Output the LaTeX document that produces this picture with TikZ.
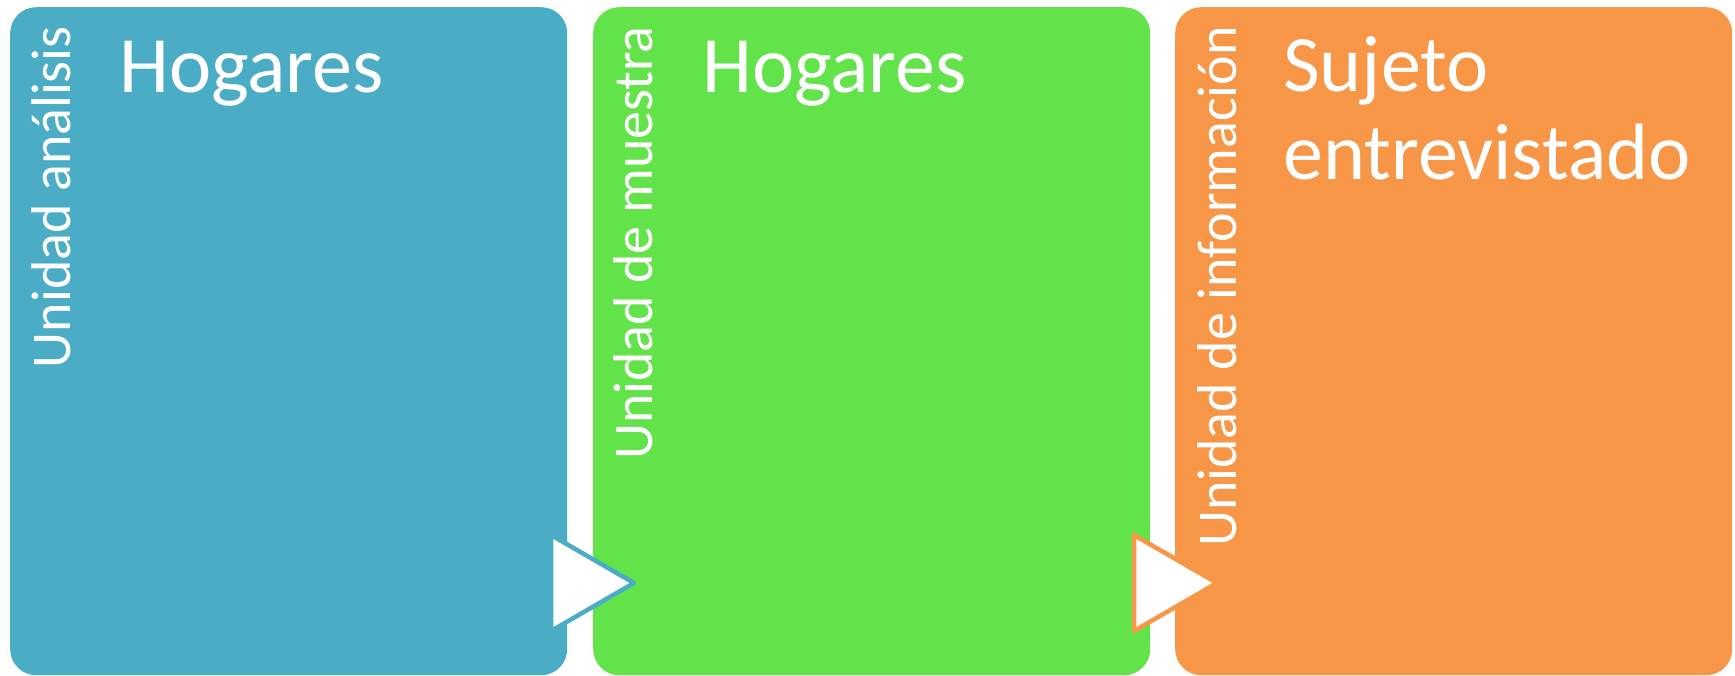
\documentclass[tikz,border=0pt]{standalone}
\usepackage{fontspec}
\setmainfont{Carlito}
\definecolor{cblue}{HTML}{4BACC6}
\definecolor{cgreen}{HTML}{62E34A}
\definecolor{corange}{HTML}{F79646}
\begin{document}
\begin{tikzpicture}[x=1pt,y=-1pt,
  panel/.style={rounded corners=26pt, inner sep=0pt, minimum width=557pt, minimum height=668pt, anchor=north west, draw=none},
  sidelabel/.style={rotate=90, anchor=base east, inner sep=0pt, text=white, font=\fontsize{56}{60}\selectfont},
  titlelabel/.style={anchor=base west, inner sep=0pt, text=white, align=left, font=\fontsize{80}{88}\selectfont},
  arrowtri/.style={line width=4.5pt, fill=white, line join=round}]
\useasboundingbox (0,0) rectangle (1735,676);
\node[panel, fill=cblue] (b1) at (10,7) {};
\node[panel, fill=cgreen] (b2) at (593,7) {};
\node[panel, fill=corange] (b3) at (1175,7) {};
\node[sidelabel] (s1) at (70,26) {Unidad análisis};
\node[sidelabel] (s2) at (652,26) {Unidad de muestra};
\node[sidelabel] (s3) at (1236,26) {Unidad de información};
\node[titlelabel] (t1) at (119,93) {Hogares};
\node[titlelabel] (t2) at (702,93) {Hogares};
\node[titlelabel] (t3) at (1283,180) {Sujeto\\entrevistado};
\coordinate (a1) at (551,535);
\coordinate (a2) at (634,583);
\coordinate (a3) at (551,631);
\draw[arrowtri, draw=cblue] (a1) -- (a2) -- (a3) -- cycle;
\coordinate (c1) at (1134,535);
\coordinate (c2) at (1217,583);
\coordinate (c3) at (1134,631);
\draw[arrowtri, draw=corange] (c1) -- (c2) -- (c3) -- cycle;
\end{tikzpicture}
\end{document}
